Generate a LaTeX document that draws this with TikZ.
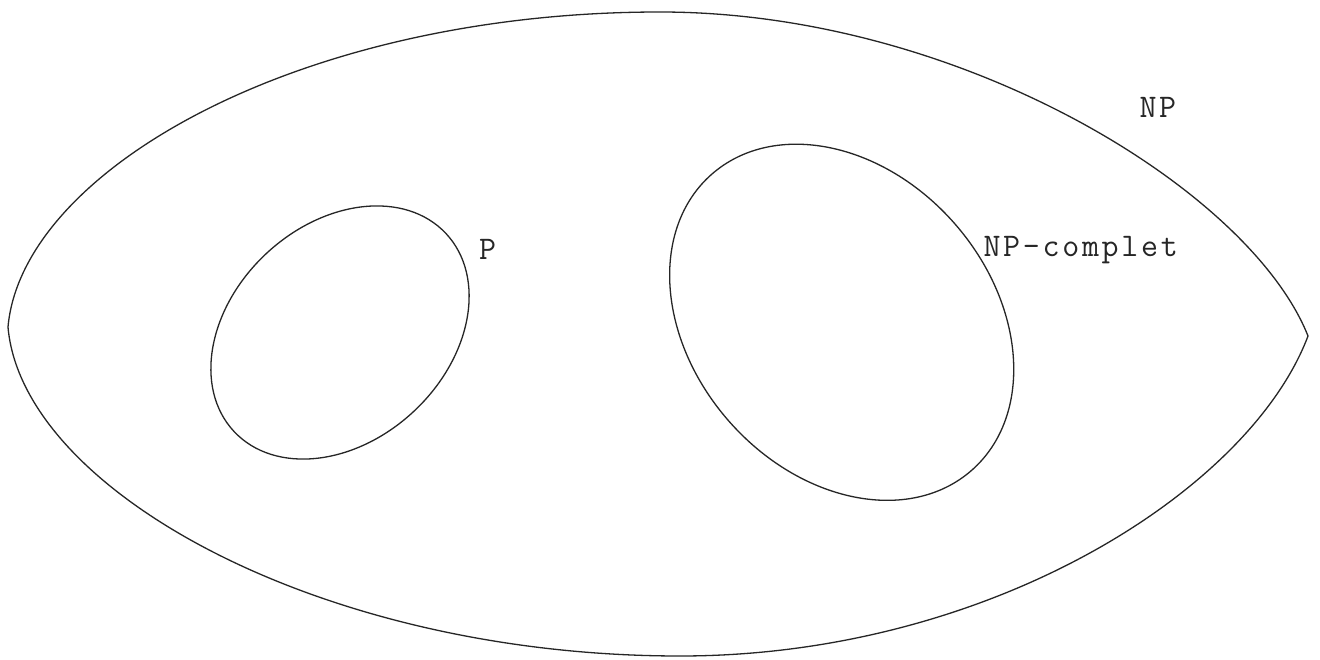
\documentclass[tikz,border=0pt]{standalone}
\newcommand\tyc[1]{\makebox[19.7pt]{#1}}
\begin{document}
\begin{tikzpicture}[x=1pt,y=-1pt,
  curveline/.style={line width=1.3pt,draw=black!85},
  lbl/.style={inner sep=0pt,anchor=base west,font=\fontsize{33}{33}\selectfont\ttfamily,text=black!85}]
\useasboundingbox[fill=white] (0,0) rectangle (1320,660);
% outer region NP
\coordinate (L) at (8,327);
\coordinate (T) at (660,12);
\coordinate (R) at (1308,336);
\coordinate (B) at (680,656);
\draw[curveline] (L) .. controls (22,170) and (300,12) .. (T)
  .. controls (960,12) and (1250,190) .. (R)
  .. controls (1250,490) and (990,656) .. (B)
  .. controls (320,656) and (22,490) .. (L) -- cycle;
% P
\coordinate (pc) at (340,332.5);
\draw[curveline,rotate around={43:(pc)}] (pc) ellipse [x radius=145pt,y radius=108pt];
% NP-complet
\coordinate (nc) at (841.7,322.3);
\draw[curveline,rotate around={-48.7:(nc)}] (nc) ellipse [x radius=197pt,y radius=150pt];
% labels
\node[lbl] (np) at (1138,118) {\tyc{N}\tyc{P}};
\node[lbl] (p) at (477.5,260) {\tyc{P}};
\node[lbl] (npc) at (982,257) {\tyc{N}\tyc{P}\tyc{-}\tyc{c}\tyc{o}\tyc{m}\tyc{p}\tyc{l}\tyc{e}\tyc{t}};
\end{tikzpicture}
\end{document}
